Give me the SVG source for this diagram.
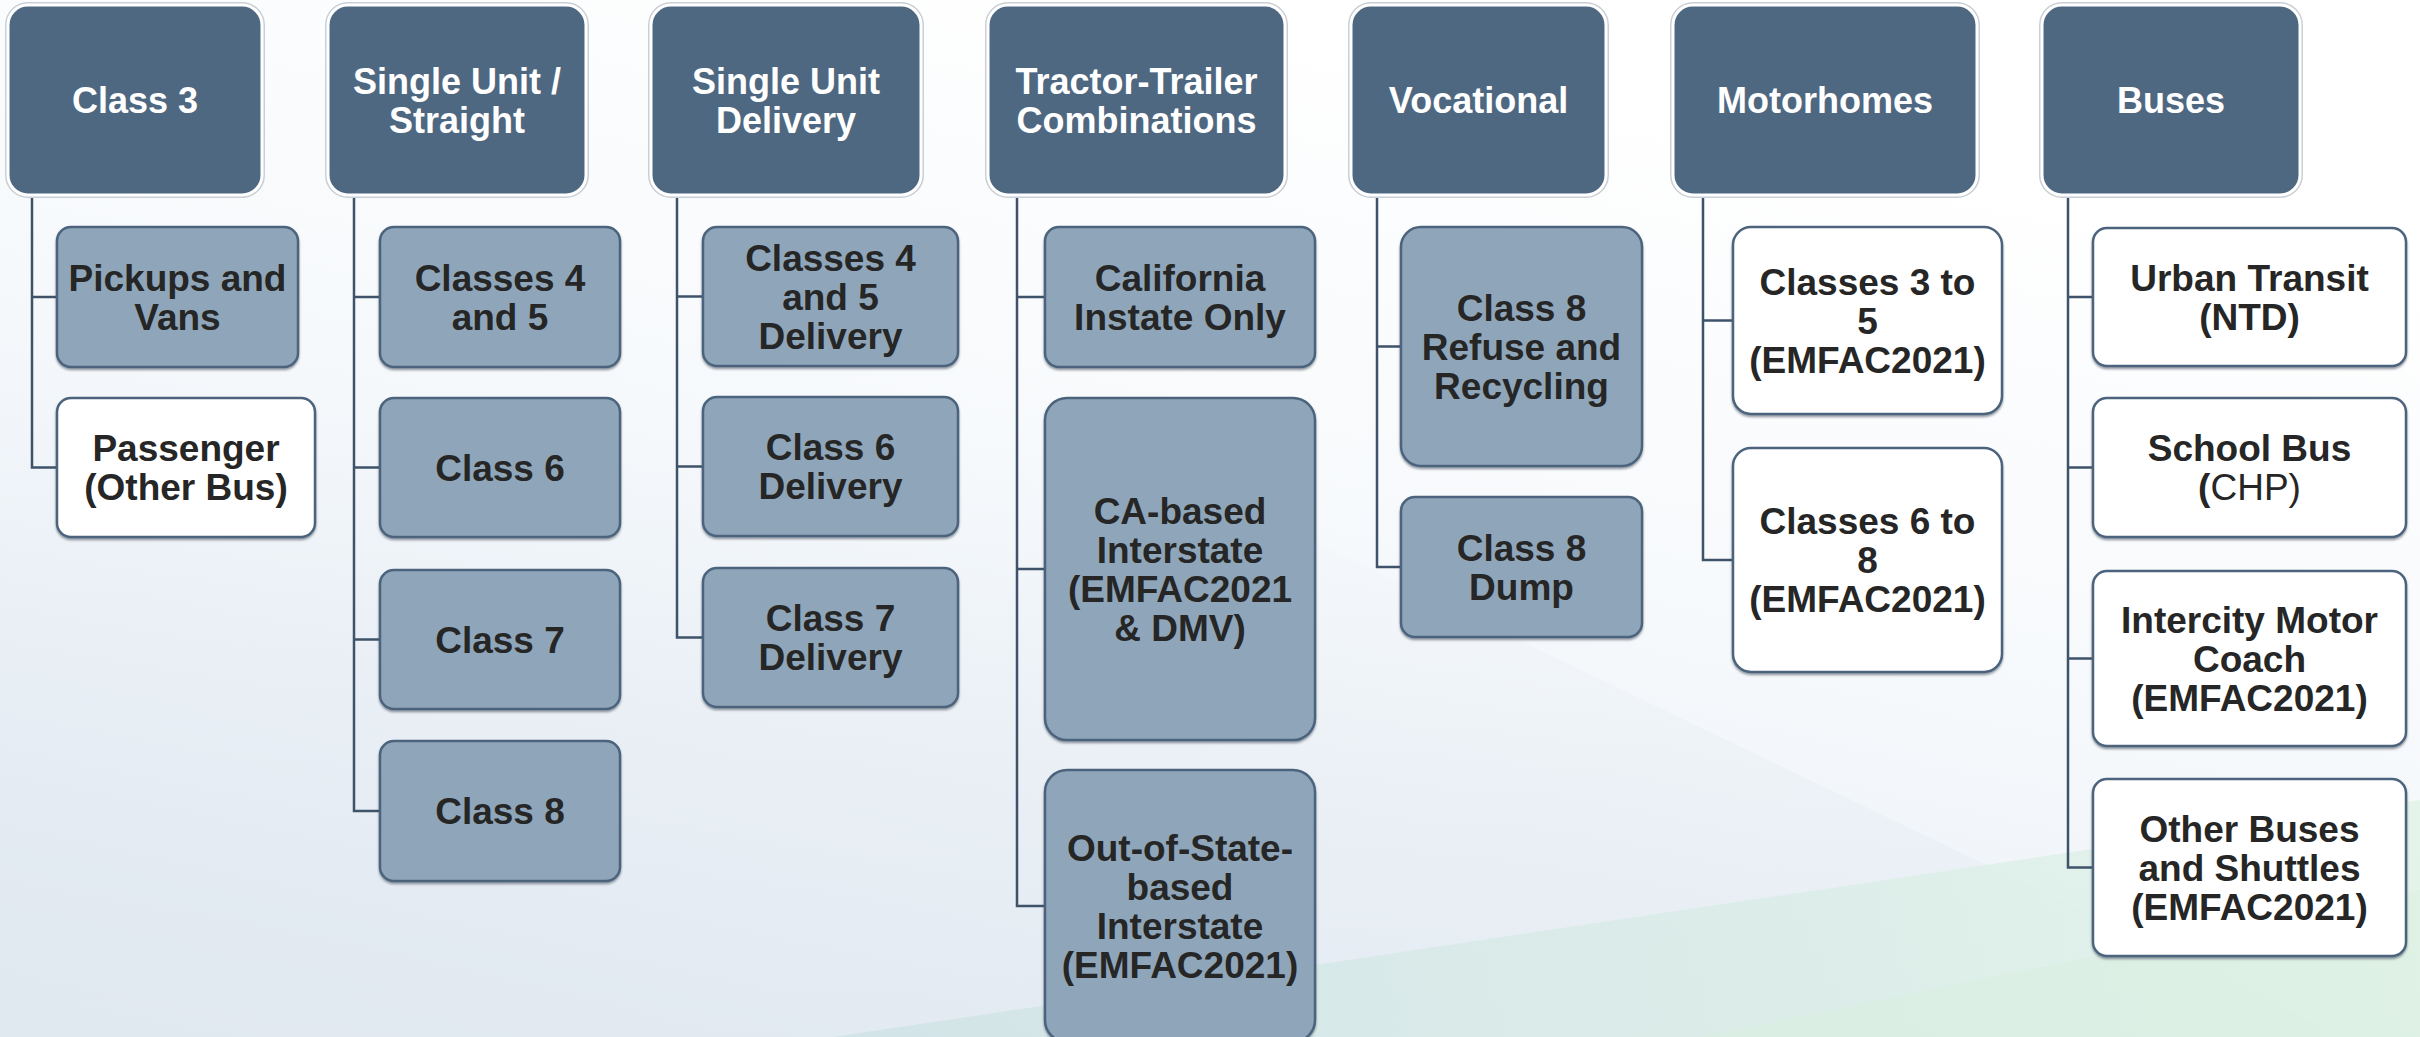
<svg xmlns="http://www.w3.org/2000/svg" width="2420" height="1037" viewBox="0 0 2420 1037">
<style>
.hdr{fill:#4F6882;stroke:#FFFFFF;stroke-width:3}
.hdro{fill:none;stroke:#C9CFD6;stroke-width:6}
.kid{fill:#8FA6BA;stroke:#4C647C;stroke-width:2.5;filter:url(#sh)}
.kidw{fill:#FFFFFF;stroke:#4C647C;stroke-width:2.5;filter:url(#sh)}
.ht{font-family:"Liberation Sans",Arial,sans-serif;font-weight:bold;font-size:36px;fill:#FFFFFF;text-anchor:middle}
.kt{font-family:"Liberation Sans",Arial,sans-serif;font-weight:bold;font-size:37px;fill:#262626;text-anchor:middle}
.reg{font-weight:normal}
.con{fill:none;stroke:#3E5369;stroke-width:2.5}
</style>
<defs>
<linearGradient id="bg" x1="0" y1="1" x2="0.5" y2="0">
<stop offset="0" stop-color="#DCE6F0"/>
<stop offset="0.55" stop-color="#F5F8FB"/>
<stop offset="1" stop-color="#FFFFFF"/>
</linearGradient>
<linearGradient id="wedge" gradientUnits="userSpaceOnUse" x1="0" y1="440" x2="0" y2="1037">
<stop offset="0" stop-color="#E3EAF1" stop-opacity="0"/>
<stop offset="1" stop-color="#E3EAF1" stop-opacity="0.6"/>
</linearGradient>
<linearGradient id="gr" x1="0" y1="0" x2="1" y2="0">
<stop offset="0" stop-color="#CFE3E6"/>
<stop offset="1" stop-color="#E2F3E8"/>
</linearGradient>
<filter id="sh" x="-5%" y="-5%" width="110%" height="115%">
<feDropShadow dx="0" dy="2" stdDeviation="1" flood-color="#2E3E4E" flood-opacity="0.5"/>
</filter>
</defs>
<rect x="0" y="0" width="2420" height="1037" fill="url(#bg)"/>
<polygon points="0,440 1102,440 2345,1037 0,1037" fill="url(#wedge)"/>
<polygon points="833,1037 2420,800 2420,1037" fill="url(#gr)" opacity="0.85"/>
<polygon points="1700,1037 2420,890 2420,1037" fill="#D9EFE0" opacity="0.5"/>

<g id="connectors">
<path class="con" d="M32 195 V467.5 H57 M32 297 H57"/>
<path class="con" d="M354 195 V811 H380 M354 297 H380 M354 467.5 H380 M354 639.5 H380"/>
<path class="con" d="M677 195 V637.5 H703 M677 296.5 H703 M677 466.5 H703"/>
<path class="con" d="M1017 195 V906 H1045 M1017 297 H1045 M1017 569 H1045"/>
<path class="con" d="M1377 195 V567 H1401 M1377 346.5 H1401"/>
<path class="con" d="M1703 195 V560 H1733 M1703 320.5 H1733"/>
<path class="con" d="M2068 195 V867.5 H2093 M2068 297 H2093 M2068 467.5 H2093 M2068 658.5 H2093"/>
</g>

<g id="h-class3"><rect class="hdro" x="8" y="5" width="254" height="190" rx="20"/><rect class="hdr" x="8" y="5" width="254" height="190" rx="20"/><text class="ht" x="135" y="113">Class 3</text></g>
<g id="h-single-unit"><rect class="hdro" x="328" y="5" width="258" height="190" rx="20"/><rect class="hdr" x="328" y="5" width="258" height="190" rx="20"/><text class="ht" x="457" y="93.5">Single Unit /</text><text class="ht" x="457" y="132.5">Straight</text></g>
<g id="h-su-delivery"><rect class="hdro" x="651" y="5" width="270" height="190" rx="20"/><rect class="hdr" x="651" y="5" width="270" height="190" rx="20"/><text class="ht" x="786" y="93.5">Single Unit</text><text class="ht" x="786" y="132.5">Delivery</text></g>
<g id="h-tractor"><rect class="hdro" x="988" y="5" width="297" height="190" rx="20"/><rect class="hdr" x="988" y="5" width="297" height="190" rx="20"/><text class="ht" x="1136.5" y="93.5">Tractor-Trailer</text><text class="ht" x="1136.5" y="132.5">Combinations</text></g>
<g id="h-vocational"><rect class="hdro" x="1351" y="5" width="255" height="190" rx="20"/><rect class="hdr" x="1351" y="5" width="255" height="190" rx="20"/><text class="ht" x="1478.5" y="113">Vocational</text></g>
<g id="h-motorhomes"><rect class="hdro" x="1673" y="5" width="304" height="190" rx="20"/><rect class="hdr" x="1673" y="5" width="304" height="190" rx="20"/><text class="ht" x="1825" y="113">Motorhomes</text></g>
<g id="h-buses"><rect class="hdro" x="2042" y="5" width="258" height="190" rx="20"/><rect class="hdr" x="2042" y="5" width="258" height="190" rx="20"/><text class="ht" x="2171" y="113">Buses</text></g>

<g id="n-pickups"><rect class="kid" x="57" y="227" width="241" height="140" rx="14"/><text class="kt" x="177.5" y="290.5">Pickups and</text><text class="kt" x="177.5" y="329.5">Vans</text></g>
<g id="n-passenger"><rect class="kidw" x="57" y="398" width="258" height="139" rx="14"/><text class="kt" x="186" y="461">Passenger</text><text class="kt" x="186" y="500">(Other Bus)</text></g>

<g id="n-su-45"><rect class="kid" x="380" y="227" width="240" height="140" rx="14"/><text class="kt" x="500" y="290.5">Classes 4</text><text class="kt" x="500" y="329.5">and 5</text></g>
<g id="n-su-6"><rect class="kid" x="380" y="398" width="240" height="139" rx="14"/><text class="kt" x="500" y="480.5">Class 6</text></g>
<g id="n-su-7"><rect class="kid" x="380" y="570" width="240" height="139" rx="14"/><text class="kt" x="500" y="652.5">Class 7</text></g>
<g id="n-su-8"><rect class="kid" x="380" y="741" width="240" height="140" rx="14"/><text class="kt" x="500" y="824">Class 8</text></g>

<g id="n-sud-45"><rect class="kid" x="703" y="227" width="255" height="139" rx="14"/><text class="kt" x="830.5" y="270.7">Classes 4</text><text class="kt" x="830.5" y="309.7">and 5</text><text class="kt" x="830.5" y="348.7">Delivery</text></g>
<g id="n-sud-6"><rect class="kid" x="703" y="397" width="255" height="139" rx="14"/><text class="kt" x="830.5" y="460.2">Class 6</text><text class="kt" x="830.5" y="499.2">Delivery</text></g>
<g id="n-sud-7"><rect class="kid" x="703" y="568" width="255" height="139" rx="14"/><text class="kt" x="830.5" y="631.2">Class 7</text><text class="kt" x="830.5" y="670.2">Delivery</text></g>

<g id="n-ca-instate"><rect class="kid" x="1045" y="227" width="270" height="140" rx="14"/><text class="kt" x="1180" y="290.7">California</text><text class="kt" x="1180" y="329.7">Instate Only</text></g>
<g id="n-ca-interstate"><rect class="kid" x="1045" y="398" width="270" height="342" rx="22"/><text class="kt" x="1180" y="523.7">CA-based</text><text class="kt" x="1180" y="562.7">Interstate</text><text class="kt" x="1180" y="601.7">(EMFAC2021</text><text class="kt" x="1180" y="640.7">&amp; DMV)</text></g>
<g id="n-oos-interstate"><rect class="kid" x="1045" y="770" width="270" height="272" rx="22"/><text class="kt" x="1180" y="860.7">Out-of-State-</text><text class="kt" x="1180" y="899.7">based</text><text class="kt" x="1180" y="938.7">Interstate</text><text class="kt" x="1180" y="977.7">(EMFAC2021)</text></g>

<g id="n-refuse"><rect class="kid" x="1401" y="227" width="241" height="239" rx="20"/><text class="kt" x="1521.5" y="320.7">Class 8</text><text class="kt" x="1521.5" y="359.7">Refuse and</text><text class="kt" x="1521.5" y="398.7">Recycling</text></g>
<g id="n-dump"><rect class="kid" x="1401" y="497" width="241" height="140" rx="14"/><text class="kt" x="1521.5" y="560.7">Class 8</text><text class="kt" x="1521.5" y="599.7">Dump</text></g>

<g id="n-mh-35"><rect class="kidw" x="1733" y="227" width="269" height="187" rx="18"/><text class="kt" x="1867.5" y="294.7">Classes 3 to</text><text class="kt" x="1867.5" y="333.7">5</text><text class="kt" x="1867.5" y="372.7">(EMFAC2021)</text></g>
<g id="n-mh-68"><rect class="kidw" x="1733" y="448" width="269" height="224" rx="18"/><text class="kt" x="1867.5" y="534.2">Classes 6 to</text><text class="kt" x="1867.5" y="573.2">8</text><text class="kt" x="1867.5" y="612.2">(EMFAC2021)</text></g>

<g id="n-urban"><rect class="kidw" x="2093" y="228" width="313" height="138" rx="14"/><text class="kt" x="2249.5" y="290.7">Urban Transit</text><text class="kt" x="2249.5" y="329.7">(NTD)</text></g>
<g id="n-school"><rect class="kidw" x="2093" y="398" width="313" height="139" rx="14"/><text class="kt" x="2249.5" y="461.2">School Bus</text><text class="kt" x="2249.5" y="500.2">(<tspan class="reg">CHP)</tspan></text></g>
<g id="n-intercity"><rect class="kidw" x="2093" y="571" width="313" height="175" rx="14"/><text class="kt" x="2249.5" y="632.7">Intercity Motor</text><text class="kt" x="2249.5" y="671.7">Coach</text><text class="kt" x="2249.5" y="710.7">(EMFAC2021)</text></g>
<g id="n-other"><rect class="kidw" x="2093" y="779" width="313" height="177" rx="14"/><text class="kt" x="2249.5" y="841.7">Other Buses</text><text class="kt" x="2249.5" y="880.7">and Shuttles</text><text class="kt" x="2249.5" y="919.7">(EMFAC2021)</text></g>
</svg>
